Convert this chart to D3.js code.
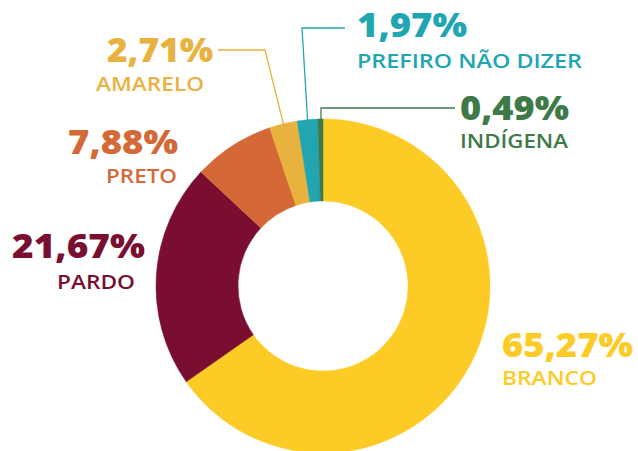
<!DOCTYPE html>
<html>
<head>
<meta charset="utf-8">
<script src="https://cdn.jsdelivr.net/npm/d3@7"></script>
<style>
  body { margin: 0; background: #fff; }
  svg text { font-family: 'Open Sans', 'Noto Sans', sans-serif; }
</style>
</head>
<body>
<svg id="chart" width="638" height="451"></svg>
<script>
var categories = [ 'BRANCO', 'PARDO', 'PRETO', 'AMARELO', 'PREFIRO NÃO DIZER', 'INDÍGENA' ];
var values = [ 65.27, 21.67, 7.88, 2.71, 1.97, 0.49 ];
var valueLabels = [ '65,27%', '21,67%', '7,88%', '2,71%', '1,97%', '0,49%' ];
var colors = [ '#FDCB26', '#7A0E31', '#D46937', '#E9B23F', '#20A5B1', '#3E7A48' ];

var svg = d3.select( '#chart' ),
  cx = 323, cy = 286,
  outerR = 167, innerR = 85;

var data = categories.map( ( c, i ) => ( { name: c, value: values[ i ], label: valueLabels[ i ], color: colors[ i ] } ) );

var pie = d3.pie()
  .sort( null )
  .value( d => d.value );

var arc = d3.arc()
  .innerRadius( innerR )
  .outerRadius( outerR );

var arcs = pie( data );

var g = svg.append( 'g' )
  .attr( 'transform', 'translate(' + cx + ',' + cy + ')' );

g.selectAll( 'path' )
  .data( arcs )
  .enter().append( 'path' )
    .attr( 'd', arc )
    .style( 'fill', d => d.data.color )
    .style( 'stroke', d => d.data.color )
    .style( 'stroke-width', 0.5 );

/* label layout: pct x/y/width, name x/y/width, anchor */
var layout = {
  'BRANCO': [ 502, 357, 131, 502, 385, 95, 'start' ],
  'PARDO': [ 145, 258, 133, 135, 289, 78, 'end' ],
  'PRETO': [ 178, 154, 110, 177, 183, 71, 'end' ],
  'AMARELO': [ 213, 62, 106, 204, 91, 108, 'end' ],
  'PREFIRO NÃO DIZER': [ 357, 37, 110, 357, 68, 225, 'start' ],
  'INDÍGENA': [ 460, 120, 109, 460, 148, 108, 'start' ]
};

// leader lines, anchored on the slice's outer edge
var leaders = {
  'AMARELO': [ [ 265, 50 ], [ 218, 50 ] ],
  'PREFIRO NÃO DIZER': [ [ 302, 28 ], [ 345, 28 ] ],
  'INDÍGENA': [ [ 321, 108 ], [ 455, 108 ] ]
};

arcs.forEach( a => {
  var pts = leaders[ a.data.name ];
  if ( !pts ) return;
  var mid = ( a.startAngle + a.endAngle ) / 2;
  var r = outerR - 1;
  var start = [ cx + r * Math.sin( mid ), cy - r * Math.cos( mid ) ];
  if ( a.data.name === 'INDÍGENA' ) start[ 0 ] = pts[ 0 ][ 0 ];
  svg.append( 'polyline' )
    .attr( 'points', [ start ].concat( pts ).map( p => p.join( ',' ) ).join( ' ' ) )
    .style( 'fill', 'none' )
    .style( 'stroke', a.data.color )
    .style( 'stroke-width', 1.3 );
} );

var labels = svg.selectAll( '.lbl' )
  .data( data )
  .enter().append( 'g' )
    .attr( 'class', 'lbl' );

labels.append( 'text' )
  .attr( 'x', d => layout[ d.name ][ 0 ] )
  .attr( 'y', d => layout[ d.name ][ 1 ] )
  .attr( 'textLength', d => layout[ d.name ][ 2 ] )
  .attr( 'lengthAdjust', 'spacingAndGlyphs' )
  .attr( 'text-anchor', d => layout[ d.name ][ 6 ] )
  .style( 'font-size', '34px' )
  .style( 'font-weight', 800 )
  .style( 'fill', d => d.color )
  .text( d => d.label );

labels.append( 'text' )
  .attr( 'x', d => layout[ d.name ][ 3 ] )
  .attr( 'y', d => layout[ d.name ][ 4 ] )
  .attr( 'textLength', d => layout[ d.name ][ 5 ] )
  .attr( 'lengthAdjust', 'spacingAndGlyphs' )
  .attr( 'text-anchor', d => layout[ d.name ][ 6 ] )
  .style( 'font-size', '20px' )
  .style( 'font-weight', 600 )
  .style( 'fill', d => d.color )
  .text( d => d.name );
</script>
</body>
</html>
